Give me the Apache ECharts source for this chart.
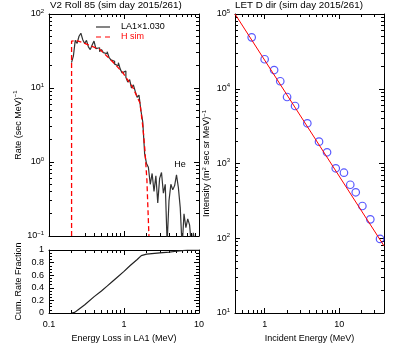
<!DOCTYPE html>
<html>
<head>
<meta charset="utf-8">
<script src="https://cdn.jsdelivr.net/npm/echarts@6/dist/echarts.min.js"></script>
<style>
  html, body { margin: 0; padding: 0; background: #fff; }
  #main { width: 419px; height: 351px; }
</style>
</head>
<body>
<div id="main"></div>
<script>
// LA1 histogram: 0.025-decade bins starting at 0.2 MeV
const binStartLog = -0.7;
const binStepLog = 0.025;
const la1Rate = [
  22, 27, 44, 40, 50, 55, 45, 40, 44, 36,
  33, 38, 43, 34, 35, 31, 33, 30, 29, 31,
  26, 24, 23, 21, 20, 22, 18, 16, 17, 14,
  12, 13, 10, 11, 9, 7.5, 8, 5, 3.5, 1.3,
  0.95, 0.85, 0.5, 0.7, 0.4, 0.65, 0.28, 0.6, 0.72, 0.38,
  0.5, 0.08, 0.3, 0.5, 0.42, 0.48, 0.67, 0.45, 0.24, 0.07,
  0.2, 0.13, 0.17, 0.14, 0.07, 0.11, 0.07, 0.05
];

// H sim curve
const hSimEnergy = [0.2, 0.2, 0.23, 0.3, 0.48, 0.71, 0.97, 1.32, 1.63, 1.79, 1.9, 2.02, 2.15];
const hSimRate = [0.1, 43, 44, 40, 33, 22.5, 16, 10, 6.3, 2.9, 1.45, 0.57, 0.1];

// cumulative rate fraction
const cumEnergy = [0.2, 0.22, 0.25, 0.3, 0.4, 0.5, 0.6, 0.7, 0.8, 1.0, 1.2, 1.5, 1.7, 2.0, 3, 4, 5, 6, 7, 10];
const cumFraction = [0, 0.01, 0.06, 0.13, 0.26, 0.35, 0.43, 0.5, 0.56, 0.66, 0.75, 0.85, 0.91, 0.935, 0.955, 0.965, 0.98, 0.99, 1.0, 1.0];

// LET D dir points and fit
const letEnergy = [0.67, 1.0, 1.34, 1.62, 2.0, 2.56, 3.74, 5.37, 6.88, 9.0, 11.6, 14.1, 16.7, 20.5, 26.2, 35.4];
const letIntensity = [48700, 24800, 17800, 12600, 7760, 5880, 3450, 1960, 1413, 863, 753, 520, 412, 270, 179, 98];
const fitEnergy = [0.4, 40];
const fitIntensity = [100000, 79];

// tick labels
const lossTicks = [0.1, 1, 10];
const rateTicks = [0.1, 1, 10, 100];
const fracTicks = [0, 0.2, 0.4, 0.6, 0.8, 1];
const incidentTicks = [1, 10];
const intensityTicks = [10, 100, 1000, 10000, 100000];

const FONT = 'Liberation Sans, Arial, sans-serif';

function minorsBetween(lo, hi) {
  const out = [];
  for (let d = lo; d < hi; d *= 10) {
    for (let k = 2; k <= 9; k++) {
      const v = +(d * k).toPrecision(3);
      if (v <= hi) out.push(v);
    }
  }
  return out;
}

const powRich = {
  m: { fontSize: 9, fontFamily: FONT, color: '#000', lineHeight: 12 },
  e: { fontSize: 6, fontFamily: FONT, color: '#000', lineHeight: 6, verticalAlign: 'top' }
};
const powLabel = v => '{m|10}{e|' + String(Math.round(Math.log10(v))).replace('-', '\u2212') + '}';

function logAxes(dim, grid, min, max, majors, minors, label) {
  const sides = dim === 'x' ? ['bottom', 'top'] : ['left', 'right'];
  const list = [];
  sides.forEach((pos, s) => {
    [majors, minors].forEach((vals, k) => {
      list.push({
        type: 'log', logBase: 10, gridIndex: grid, position: pos, min: min, max: max,
        axisLine: { show: k === 0, onZero: false, lineStyle: { color: '#000', width: 1 } },
        axisTick: { show: true, inside: true, length: k === 0 ? 5 : 3, customValues: vals, lineStyle: { color: '#000' } },
        axisLabel: (s === 0 && k === 0 && label) ? label : { show: false },
        splitLine: { show: false }
      });
    });
  });
  return list;
}

function linAxes(grid, min, max, majors, label) {
  return ['left', 'right'].map((pos, s) => ({
    type: 'value', gridIndex: grid, position: pos, min: min, max: max, interval: 0.2,
    axisLine: { show: true, onZero: false, lineStyle: { color: '#000', width: 1 } },
    axisTick: { show: true, inside: true, length: 5, lineStyle: { color: '#000' } },
    minorTick: { show: true, splitNumber: 4, length: 3, lineStyle: { color: '#000' } },
    axisLabel: s === 0 ? label : { show: false },
    splitLine: { show: false }
  }));
}

const tickText = { fontSize: 9, fontFamily: FONT, color: '#000' };

const xAxes = [].concat(
  logAxes('x', 0, 0.1, 10, lossTicks, minorsBetween(0.1, 10), null),
  logAxes('x', 1, 0.1, 10, lossTicks, minorsBetween(0.1, 10),
    Object.assign({ customValues: lossTicks, margin: 7, formatter: v => String(v) }, tickText)),
  logAxes('x', 2, 0.4, 40, incidentTicks, minorsBetween(0.1, 40).filter(v => v >= 0.5),
    Object.assign({ customValues: incidentTicks, margin: 7, formatter: v => String(v) }, tickText))
);
Object.assign(xAxes[4], { name: 'Energy Loss in LA1 (MeV)', nameLocation: 'middle', nameGap: 21, nameTextStyle: tickText });
Object.assign(xAxes[8], { name: 'Incident Energy (MeV)', nameLocation: 'middle', nameGap: 21, nameTextStyle: tickText });

const yAxes = [].concat(
  logAxes('y', 0, 0.1, 100, rateTicks, minorsBetween(0.1, 100),
    { customValues: rateTicks, margin: 5, formatter: powLabel, rich: powRich }),
  linAxes(1, 0, 1, fracTicks, Object.assign({ margin: 5, formatter: v => String(v) }, tickText)),
  logAxes('y', 2, 10, 100000, intensityTicks, minorsBetween(10, 100000),
    { customValues: intensityTicks, margin: 5, formatter: powLabel, rich: powRich })
);
const nameRich = {
  a: { fontSize: 9, fontFamily: FONT, color: '#000', lineHeight: 12 },
  s: { fontSize: 6, fontFamily: FONT, color: '#000', lineHeight: 6, verticalAlign: 'top' }
};
Object.assign(yAxes[0], { name: '{a|Rate (sec MeV)}{s|\u22121}', nameLocation: 'middle', nameGap: 22, nameTextStyle: { rich: nameRich } });
Object.assign(yAxes[4], { name: 'Cum. Rate Fraction', nameLocation: 'middle', nameGap: 26, nameTextStyle: tickText });
Object.assign(yAxes[6], { name: '{a|Intensity (m}{s|2}{a| sec sr MeV)}{s|\u22121}', nameLocation: 'middle', nameGap: 22, nameTextStyle: { rich: nameRich } });

const la1Data = la1Rate.map((v, i) => [Math.pow(10, binStartLog + binStepLog * i), v]);
la1Data.push([Math.pow(10, binStartLog + binStepLog * la1Rate.length), la1Rate[la1Rate.length - 1]]);

const chart = echarts.init(document.getElementById('main'));
chart.setOption({
  animation: false,
  backgroundColor: '#fff',
  title: [
    { text: 'V2 Roll 85 (sim day 2015/261)', left: 50, top: 0, padding: 0, textStyle: { fontSize: 9.8, fontWeight: 'normal', fontFamily: FONT, color: '#000' } },
    { text: 'LET D dir (sim day 2015/261)', left: 235, top: 0, padding: 0, textStyle: { fontSize: 9.8, fontWeight: 'normal', fontFamily: FONT, color: '#000' } }
  ],
  legend: {
    left: 96, top: 22, orient: 'vertical', itemWidth: 14, itemHeight: 1.2, itemGap: 0, padding: 0,
    textStyle: { fontSize: 9, fontFamily: FONT, lineHeight: 10, padding: [0, 0, 0, 6] },
    data: [
      { name: 'LA1\u00d71.030', icon: 'path://M0,0h14v1.2h-14z', textStyle: { color: '#000' } },
      { name: 'H sim', icon: 'path://M0,0h5v1.2h-5z M9,0h5v1.2h-5z', textStyle: { color: '#ff0000' } }
    ]
  },
  grid: [
    { left: 49, top: 14, width: 150, height: 222 },
    { left: 49, top: 250, width: 150, height: 63 },
    { left: 235, top: 14, width: 149, height: 299 }
  ],
  xAxis: xAxes,
  yAxis: yAxes,
  series: [
    {
      name: 'LA1\u00d71.030', type: 'line', step: 'end', xAxisIndex: 0, yAxisIndex: 0,
      data: la1Data, symbol: 'none', clip: true,
      lineStyle: { color: '#333', width: 1.2 }, itemStyle: { color: '#333' },
      markPoint: {
        symbol: 'rect', symbolSize: 1, itemStyle: { color: 'rgba(0,0,0,0)' },
        label: { show: true, position: 'inside', formatter: 'He', fontSize: 9, fontFamily: FONT, color: '#000' },
        data: [{ coord: [5.6, 0.93] }]
      }
    },
    {
      name: 'H sim', type: 'line', xAxisIndex: 0, yAxisIndex: 0,
      data: hSimEnergy.map((e, i) => [e, hSimRate[i]]), symbol: 'none', clip: true,
      lineStyle: { color: '#ff0000', width: 1.3, type: [5, 3] }, itemStyle: { color: '#ff0000' }
    },
    {
      name: 'cum', type: 'line', xAxisIndex: 4, yAxisIndex: 4,
      data: cumEnergy.map((e, i) => [e, cumFraction[i]]), symbol: 'none',
      lineStyle: { color: '#222', width: 1.2 }
    },
    {
      name: 'LET D', type: 'scatter', xAxisIndex: 8, yAxisIndex: 6,
      data: letEnergy.map((e, i) => [e, letIntensity[i]]),
      symbol: 'circle', symbolSize: 7.5,
      itemStyle: { color: 'rgba(0,0,0,0)', borderColor: '#2f2fff', borderWidth: 1.2 }
    },
    {
      name: 'fit', type: 'line', xAxisIndex: 8, yAxisIndex: 6,
      data: fitEnergy.map((e, i) => [e, fitIntensity[i]]), symbol: 'none', clip: true,
      lineStyle: { color: '#ff0000', width: 1 }
    }
  ]
});
</script>
</body>
</html>
